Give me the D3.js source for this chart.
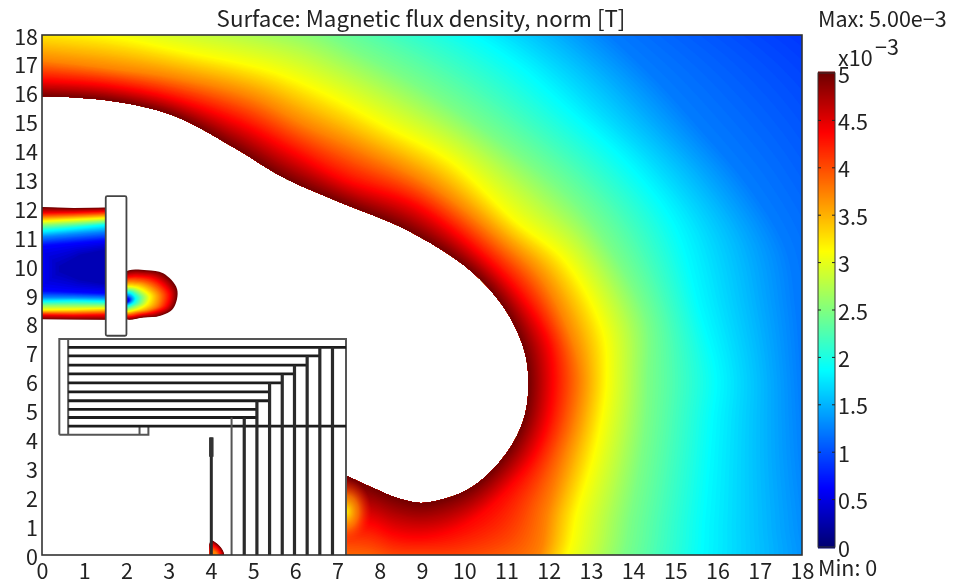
<!DOCTYPE html>
<html>
<head>
<meta charset="utf-8">
<script src="https://cdn.jsdelivr.net/npm/d3@7"></script>
<style>
  html, body { margin: 0; background: #fff; }
  svg { display: block; filter: blur(0.35px); }
  text { font-family: "Noto Sans CJK JP", "Noto Sans", sans-serif; fill: #222; }
</style>
</head>
<body>
<div id="chart"></div>
<script>
// tick labels
const axisTicks = d3.range(0, 19);
const barTicks = [0, 0.5, 1, 1.5, 2, 2.5, 3, 3.5, 4, 4.5, 5];

// level curves of the outer field, [x, y], one point per station
const iso50 = [[-0.14,15.88],[1.54,15.74],[3.10,15.22],[4.53,14.12],[5.76,13.04],[7.06,12.21],[8.65,11.25],[10.14,9.86],[10.95,8.55],[11.40,7.20],[11.52,6.16],[11.45,4.91],[11.16,3.88],[10.62,2.87],[10.07,2.25],[9.43,1.90],[8.96,1.80],[8.41,1.97],[7.84,2.32],[7.23,2.73]];
const iso44 = [[-0.14,16.44],[1.54,16.26],[3.10,15.81],[4.69,14.95],[5.88,14.01],[7.18,12.98],[8.84,12.11],[10.50,10.28],[11.33,9.00],[11.97,7.44],[12.11,6.16],[11.99,4.67],[11.64,3.39],[11.09,2.35],[10.38,1.38],[9.67,0.80],[8.96,0.59],[8.36,0.69],[7.82,1.04],[7.23,1.21]];
const iso38 = [[-0.14,17.13],[1.54,16.85],[3.15,16.51],[4.93,15.85],[6.23,14.88],[7.54,14.01],[9.19,12.80],[10.85,10.90],[11.80,9.60],[12.51,7.61],[12.75,6.16],[12.63,4.67],[12.35,3.29],[11.99,1.56],[11.68,-0.17],[10.38,-0.69],[8.96,-0.59],[8.29,-0.59],[7.65,-0.35],[7.23,-0.35]];
const iso31 = [[-0.14,18.24],[1.54,17.99],[3.27,17.47],[5.40,16.78],[6.71,15.99],[8.13,14.88],[9.67,13.67],[11.21,11.59],[12.39,10.21],[13.29,7.79],[13.39,6.16],[13.27,4.67],[13.06,3.29],[12.70,1.56],[12.39,-0.17],[11.33,-1.56],[8.96,-1.90],[8.13,-1.90],[7.54,-1.56],[7.23,-1.56]];
const iso25 = [[-0.14,19.55],[2.32,19.03],[4.69,18.69],[6.47,18.10],[7.42,17.40],[8.96,16.16],[10.62,14.53],[12.27,12.63],[13.22,11.07],[14.29,8.13],[14.34,6.16],[14.29,4.67],[14.17,3.29],[13.93,1.38],[13.65,-0.35],[12.27,-2.25],[8.96,-3.29],[8.01,-3.29],[7.42,-2.94],[7.23,-3.29]];
const iso19 = [[-0.14,20.59],[4.69,20.24],[7.06,19.72],[8.72,18.86],[10.02,18.17],[11.26,17.02],[12.51,15.40],[13.93,13.49],[15.00,11.42],[15.59,8.48],[15.99,6.16],[15.90,4.67],[15.83,3.29],[15.71,1.21],[15.59,-0.35],[14.41,-2.94],[8.96,-5.02],[7.89,-5.02],[7.30,-4.67],[7.23,-5.02]];
const iso12 = [[-0.14,21.63],[6.82,21.63],[9.43,20.76],[10.85,19.90],[12.75,18.69],[14.29,16.78],[15.59,14.71],[16.78,12.63],[17.61,10.55],[17.84,8.48],[17.96,6.16],[18.03,4.67],[18.10,3.29],[18.32,0.87],[18.44,-0.35],[17.49,-3.63],[8.96,-7.09],[7.89,-7.09],[7.30,-6.75],[7.23,-7.09]];
const iso09 = [[-0.14,22.66],[8.48,22.66],[11.80,21.28],[13.70,20.59],[15.59,19.90],[17.49,18.51],[18.67,17.13],[19.62,15.05],[20.33,12.63],[20.81,9.52],[21.04,6.16],[21.04,4.33],[21.04,2.60],[21.04,-0.17],[21.04,-2.25],[20.33,-4.33],[8.96,-8.48],[7.89,-8.48],[7.30,-8.13],[7.23,-8.48]];
const outerLevels = [0.9, 1.25, 1.875, 2.5, 3.125, 3.75, 4.375, 5];
const outerCurves = [iso09, iso12, iso19, iso25, iso31, iso38, iso44, iso50];

// field in the gap left of the plate
const gapLevels = [5, 4.375, 3.125, 2.5, 1.875, 1.25, 0.625, 0.3];
const gapCurves = [
  [[-0.1,12.05],[0.75,12.01],[1.6,12.03],[1.6,8.14],[0.75,8.15],[-0.1,8.16]],
  [[-0.1,11.84],[0.75,11.86],[1.6,11.90],[1.6,8.31],[0.75,8.29],[-0.1,8.31]],
  [[-0.1,11.55],[0.75,11.61],[1.6,11.67],[1.6,8.54],[0.75,8.50],[-0.1,8.48]],
  [[-0.1,11.40],[0.75,11.47],[1.6,11.55],[1.6,8.65],[0.75,8.65],[-0.1,8.65]],
  [[-0.1,11.21],[0.75,11.32],[1.6,11.44],[1.6,8.77],[0.75,8.80],[-0.1,8.77]],
  [[-0.1,11.00],[0.75,11.10],[1.6,11.20],[1.6,8.90],[0.75,8.92],[-0.1,8.92]],
  [[-0.1,10.70],[0.75,10.80],[1.6,10.90],[1.6,9.05],[0.75,9.10],[-0.1,9.15]],
  [[0.4,10.00],[0.9,10.40],[1.6,10.60],[1.6,9.35],[0.9,9.50],[0.4,9.80]]
];

// blob right of the plate
const blobLevels = [5, 4.375, 3.75, 3.125, 2.5, 1.875, 1.25, 0.6];
const blobCurves = [
  [[1.95,9.77],[2.48,9.86],[2.87,9.75],[3.20,9.20],[3.11,8.54],[2.80,8.28],[2.40,8.22],[1.95,8.20]],
  [[1.95,9.55],[2.40,9.65],[2.75,9.50],[3.03,9.05],[2.95,8.60],[2.70,8.42],[2.40,8.33],[1.95,8.30]],
  [[1.95,9.40],[2.30,9.45],[2.60,9.30],[2.80,9.00],[2.75,8.65],[2.55,8.48],[2.30,8.41],[1.95,8.38]],
  [[1.95,9.25],[2.20,9.28],[2.42,9.15],[2.56,8.95],[2.50,8.70],[2.35,8.55],[2.20,8.48],[1.95,8.45]],
  [[1.95,9.15],[2.12,9.18],[2.30,9.05],[2.38,8.92],[2.33,8.72],[2.20,8.62],[2.08,8.55],[1.95,8.52]],
  [[1.95,9.05],[2.08,9.08],[2.18,8.98],[2.22,8.88],[2.18,8.75],[2.10,8.67],[2.02,8.62],[1.95,8.60]],
  [[1.95,8.97],[2.03,8.98],[2.10,8.93],[2.13,8.85],[2.10,8.77],[2.05,8.72],[2.00,8.69],[1.95,8.68]],
  [[1.95,8.90],[2.00,8.90],[2.04,8.87],[2.06,8.83],[2.05,8.79],[2.02,8.76],[1.98,8.75],[1.95,8.75]]
];

// yellow pocket against the core at x = 7.2: centre, half sizes, values from centre outwards
const pocketCentre = [7.2, 1.5];
const pocketRadius = [0.6, 1.15];
const pocketValues = [3.2, 3.7, 4.2];

// small spot at the foot of the post
const spotLevels = [5, 4.375, 3.75];
const spotCurves = [
  [[4.0,-0.1],[4.0,0.50],[4.16,0.38],[4.30,0.10],[4.30,-0.1]],
  [[4.0,-0.1],[4.0,0.35],[4.12,0.28],[4.23,0.08],[4.23,-0.1]],
  [[4.0,-0.1],[4.0,0.15],[4.08,0.12],[4.15,0.02],[4.15,-0.1]]
];

// geometry outlines
const coilY = [7.19, 6.89, 6.57, 6.27, 5.96, 5.65, 5.34, 5.04, 4.76, 4.46];
const coilEnd = [7.2, 6.58, 6.28, 5.98, 5.69, 5.39, 5.39, 5.09, 5.09, 7.2];
const limbX = [4.49, 4.79, 5.09, 5.39, 5.69, 5.98, 6.28, 6.58, 6.88];
const limbTop = [4.76, 4.76, 5.34, 5.96, 6.27, 6.57, 6.89, 7.19, 7.19];
const coreOutline = [[0.41,4.16],[0.41,7.48],[7.2,7.48],[7.2,0]];
const coreStep = [[0.41,4.16],[2.52,4.16],[2.52,4.46]];
const coreInner = [[0.62,4.16],[0.62,7.48]];
const coreNotch = [[2.31,4.16],[2.31,4.46]];
const plate = [1.51, 7.59, 2.0, 12.42];
const post = [[4.01,0],[4.01,4.07]];
const postHead = [[4.01,3.4],[4.01,4.07]];

const width = 954;
const height = 584;
const margin = { top: 35, right: 152, bottom: 29, left: 42 };
const plotW = width - margin.left - margin.right;
const plotH = height - margin.top - margin.bottom;

const x = d3.scaleLinear().domain([0, 18]).range([margin.left, margin.left + plotW]);
const y = d3.scaleLinear().domain([0, 18]).range([margin.top + plotH, margin.top]);
const barY = d3.scaleLinear().domain([0, 5]).range([547, 73]);

// jet colour table used by the plot
const color = d3.scaleLinear()
  .domain([0, 0.625, 1.875, 3.125, 4.375, 5])
  .range(["#000070", "#0000ff", "#00ffff", "#ffff00", "#ff0000", "#700000"])
  .clamp(true);

const svg = d3.select("#chart").append("svg").attr("width", width).attr("height", height);
const defs = svg.append("defs");

defs.append("clipPath").attr("id", "plot-clip")
  .append("rect")
  .attr("x", x(0)).attr("y", y(18))
  .attr("width", x(18) - x(0)).attr("height", y(0) - y(18));
defs.append("clipPath").attr("id", "gap-clip")
  .append("rect")
  .attr("x", x(0)).attr("y", y(18))
  .attr("width", x(1.6) - x(0)).attr("height", y(0) - y(18));
defs.append("clipPath").attr("id", "pocket-clip")
  .append("rect")
  .attr("x", x(7.2)).attr("y", y(3))
  .attr("width", x(8.5) - x(7.2)).attr("height", y(0) - y(3));

const pocketGrad = defs.append("radialGradient").attr("id", "pocket-grad");
pocketValues.forEach((v, i) => {
  pocketGrad.append("stop")
    .attr("offset", i / (pocketValues.length - 1))
    .attr("stop-color", color(v))
    .attr("stop-opacity", i === pocketValues.length - 1 ? 0 : i === 0 ? 1 : 0.75);
});

const line = d3.line().x((d) => x(d[0])).y((d) => y(d[1])).curve(d3.curveCatmullRom);
const lineStraight = d3.line().x((d) => x(d[0])).y((d) => y(d[1]));

// point-by-point blend of neighbouring level curves, only for the colour ramp
function curveAt(levels, curves, v) {
  let i = 0;
  const up = levels[0] < levels[levels.length - 1];
  while (i < levels.length - 2 && (up ? v > levels[i + 1] : v < levels[i + 1])) i++;
  const t = (v - levels[i]) / (levels[i + 1] - levels[i]);
  return curves[i].map((p, k) => [
    p[0] + (curves[i + 1][k][0] - p[0]) * t,
    p[1] + (curves[i + 1][k][1] - p[1]) * t,
  ]);
}

function rampValues(a, b, n) {
  return d3.range(n + 1).map((i) => a + ((b - a) * i) / n);
}

const field = svg.append("g").attr("clip-path", "url(#plot-clip)");

// outer field: paint from the lowest level inwards, each band closed on the 5e-3 curve
const rev = iso50.slice().reverse();
field.append("g")
  .selectAll("path")
  .data(rampValues(0.9, 5, 164))
  .join("path")
  .attr("fill", (d) => color(d))
  .attr("d", (d) => line(curveAt(outerLevels, outerCurves, d)) + "L" + line(rev).slice(1) + "Z");

function drawLoops(parent, levels, curves, curve, steps) {
  const loop = d3.line().x((d) => x(d[0])).y((d) => y(d[1])).curve(curve);
  parent.append("g")
    .selectAll("path")
    .data(rampValues(levels[0], levels[levels.length - 1], steps))
    .join("path")
    .attr("fill", (d) => color(d))
    .attr("d", (d) => loop(curveAt(levels, curves, d)));
}

const gapGroup = svg.append("g").attr("clip-path", "url(#gap-clip)");
drawLoops(gapGroup, gapLevels, gapCurves, d3.curveLinearClosed, 90);
drawLoops(field, blobLevels, blobCurves, d3.curveCatmullRomClosed, 70);
drawLoops(field, spotLevels, spotCurves, d3.curveCatmullRomClosed, 20);

svg.append("g").attr("clip-path", "url(#pocket-clip)")
  .append("ellipse")
  .attr("cx", x(pocketCentre[0]))
  .attr("cy", y(pocketCentre[1]))
  .attr("rx", x(pocketRadius[0]) - x(0))
  .attr("ry", y(0) - y(pocketRadius[1]))
  .attr("fill", "url(#pocket-grad)");

// geometry
const geo = svg.append("g").attr("fill", "none").attr("stroke-linecap", "butt");

geo.append("rect")
  .attr("x", x(plate[0])).attr("y", y(plate[3]))
  .attr("width", x(plate[2]) - x(plate[0])).attr("height", y(plate[1]) - y(plate[3]))
  .attr("rx", 1.5)
  .attr("fill", "#fff").attr("stroke", "#444").attr("stroke-width", 1.8);

[coreOutline, coreStep, coreInner, coreNotch].forEach((d) => {
  geo.append("path").attr("d", lineStraight(d)).attr("stroke", "#555").attr("stroke-width", 2);
});

geo.selectAll(".coil")
  .data(coilY)
  .join("line")
  .attr("class", "coil")
  .attr("x1", x(0.62))
  .attr("x2", (d, i) => x(coilEnd[i]))
  .attr("y1", (d) => y(d))
  .attr("y2", (d) => y(d))
  .attr("stroke", "#1c1c1c")
  .attr("stroke-width", 2.8);

geo.selectAll(".limb")
  .data(limbX)
  .join("line")
  .attr("class", "limb")
  .attr("x1", (d) => x(d))
  .attr("x2", (d) => x(d))
  .attr("y1", y(0))
  .attr("y2", (d, i) => y(limbTop[i]))
  .attr("stroke", (d, i) => (i === 0 ? "#555" : "#2a2a2a"))
  .attr("stroke-width", (d, i) => (i === 0 ? 2 : 3.2));

geo.append("path").attr("d", lineStraight(post)).attr("stroke", "#2a2a2a").attr("stroke-width", 3);
geo.append("path").attr("d", lineStraight(postHead)).attr("stroke", "#333").attr("stroke-width", 4.5);

// frame
svg.append("rect")
  .attr("x", x(0)).attr("y", y(18))
  .attr("width", x(18) - x(0)).attr("height", y(0) - y(18))
  .attr("fill", "none").attr("stroke", "#333").attr("stroke-width", 1.6);

// axes
const xAxis = svg.append("g")
  .attr("transform", `translate(0,${y(0)})`)
  .call(d3.axisBottom(x).tickValues(axisTicks).tickSize(0).tickPadding(9).tickFormat(d3.format("d")));
const yAxis = svg.append("g")
  .attr("transform", `translate(${x(0)},0)`)
  .call(d3.axisLeft(y).tickValues(axisTicks).tickSize(0).tickPadding(4).tickFormat(d3.format("d")));
[xAxis, yAxis].forEach((a) => {
  a.select(".domain").remove();
  a.selectAll("text").style("font-size", "21.5px").style("font-family", null);
});
yAxis.selectAll("text").attr("dy", "0.42em");

// colour bar
const barX = 818;
const barW = 17;
svg.append("g")
  .selectAll("rect")
  .data(rampValues(0, 5, 237))
  .join("rect")
  .attr("x", barX)
  .attr("y", (d) => barY(d) - 1.5)
  .attr("width", barW)
  .attr("height", 3)
  .attr("fill", (d) => color(d));

svg.append("rect")
  .attr("x", barX).attr("y", barY(5))
  .attr("width", barW).attr("height", barY(0) - barY(5))
  .attr("fill", "none").attr("stroke", "#333").attr("stroke-width", 1);

const barAxis = svg.append("g")
  .attr("transform", `translate(${barX + barW},0)`)
  .call(d3.axisRight(barY).tickValues(barTicks).tickSize(0).tickPadding(3).tickFormat((d) => d));
barAxis.select(".domain").remove();
barAxis.selectAll("text").style("font-size", "21.5px").style("font-family", null).attr("dy", "0.42em");

svg.append("g")
  .selectAll("line")
  .data(barTicks.slice(1, -1))
  .join("line")
  .attr("x1", barX)
  .attr("x2", barX + 3)
  .attr("y1", (d) => barY(d))
  .attr("y2", (d) => barY(d))
  .attr("stroke", "#222");
svg.append("g")
  .selectAll("line")
  .data(barTicks.slice(1, -1))
  .join("line")
  .attr("x1", barX + barW - 3)
  .attr("x2", barX + barW)
  .attr("y1", (d) => barY(d))
  .attr("y2", (d) => barY(d))
  .attr("stroke", "#222");

// titles
svg.append("text").attr("x", 421).attr("y", 27).attr("text-anchor", "middle")
  .style("font-size", "22.3px").text("Surface: Magnetic flux density, norm [T]");
svg.append("text").attr("x", 818).attr("y", 27).style("font-size", "21.5px").text("Max: 5.00e\u22123");
svg.append("text").attr("x", 838).attr("y", 66).style("font-size", "21.5px").text("x10");
svg.append("text").attr("x", 875).attr("y", 55).style("font-size", "21.5px").text("\u22123");
svg.append("text").attr("x", 818).attr("y", 576).style("font-size", "21.5px").text("Min: 0");
</script>
</body>
</html>
